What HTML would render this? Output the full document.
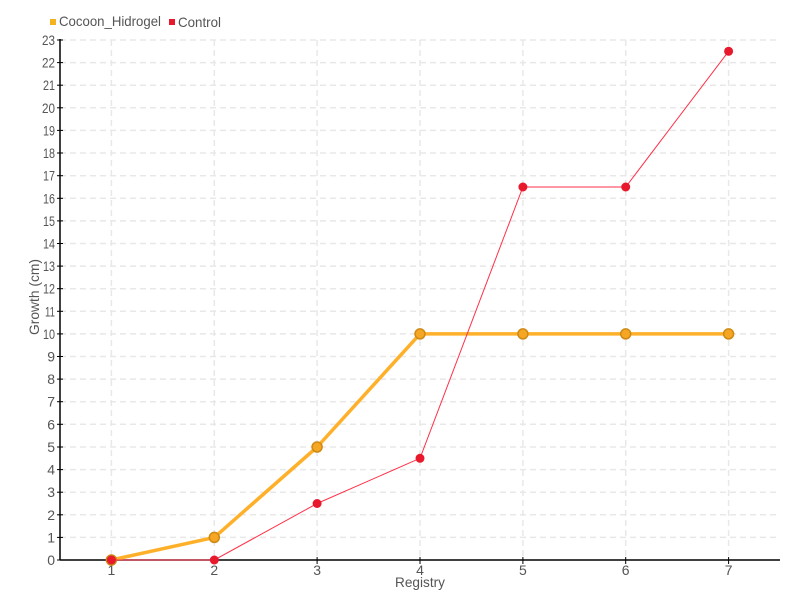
<!DOCTYPE html>
<html><head><meta charset="utf-8"><style>
html,body{margin:0;padding:0;background:#fff;}
svg{display:block;}
text{font-family:"Liberation Sans Narrow","Liberation Sans",sans-serif;fill:#555;}
</style></head><body>
<svg width="800" height="600" viewBox="0 0 800 600" xmlns="http://www.w3.org/2000/svg">
<g stroke="#e8e8e8" stroke-width="1.5" stroke-dasharray="6,4" fill="none">
<line x1="60" x2="780" y1="537.4" y2="537.4"/><line x1="60" x2="780" y1="514.8" y2="514.8"/><line x1="60" x2="780" y1="492.2" y2="492.2"/><line x1="60" x2="780" y1="469.6" y2="469.6"/><line x1="60" x2="780" y1="447.0" y2="447.0"/><line x1="60" x2="780" y1="424.3" y2="424.3"/><line x1="60" x2="780" y1="401.7" y2="401.7"/><line x1="60" x2="780" y1="379.1" y2="379.1"/><line x1="60" x2="780" y1="356.5" y2="356.5"/><line x1="60" x2="780" y1="333.9" y2="333.9"/><line x1="60" x2="780" y1="311.3" y2="311.3"/><line x1="60" x2="780" y1="288.7" y2="288.7"/><line x1="60" x2="780" y1="266.1" y2="266.1"/><line x1="60" x2="780" y1="243.5" y2="243.5"/><line x1="60" x2="780" y1="220.9" y2="220.9"/><line x1="60" x2="780" y1="198.3" y2="198.3"/><line x1="60" x2="780" y1="175.7" y2="175.7"/><line x1="60" x2="780" y1="153.0" y2="153.0"/><line x1="60" x2="780" y1="130.4" y2="130.4"/><line x1="60" x2="780" y1="107.8" y2="107.8"/><line x1="60" x2="780" y1="85.2" y2="85.2"/><line x1="60" x2="780" y1="62.6" y2="62.6"/><line x1="60" x2="780" y1="40" y2="40"/>
<line x1="111.4" x2="111.4" y1="40" y2="560"/><line x1="214.3" x2="214.3" y1="40" y2="560"/><line x1="317.1" x2="317.1" y1="40" y2="560"/><line x1="420" x2="420" y1="40" y2="560"/><line x1="522.9" x2="522.9" y1="40" y2="560"/><line x1="625.7" x2="625.7" y1="40" y2="560"/><line x1="728.6" x2="728.6" y1="40" y2="560"/>
</g>
<g stroke="#000" stroke-width="1.5" fill="none">
<line x1="60" y1="39" x2="60" y2="560"/>
<line x1="60" y1="560" x2="780" y2="560"/>
</g>
<g stroke="#000" stroke-width="1">
<line x1="57" x2="63" y1="560" y2="560"/><line x1="57" x2="63" y1="537.4" y2="537.4"/><line x1="57" x2="63" y1="514.8" y2="514.8"/><line x1="57" x2="63" y1="492.2" y2="492.2"/><line x1="57" x2="63" y1="469.6" y2="469.6"/><line x1="57" x2="63" y1="447.0" y2="447.0"/><line x1="57" x2="63" y1="424.3" y2="424.3"/><line x1="57" x2="63" y1="401.7" y2="401.7"/><line x1="57" x2="63" y1="379.1" y2="379.1"/><line x1="57" x2="63" y1="356.5" y2="356.5"/><line x1="57" x2="63" y1="333.9" y2="333.9"/><line x1="57" x2="63" y1="311.3" y2="311.3"/><line x1="57" x2="63" y1="288.7" y2="288.7"/><line x1="57" x2="63" y1="266.1" y2="266.1"/><line x1="57" x2="63" y1="243.5" y2="243.5"/><line x1="57" x2="63" y1="220.9" y2="220.9"/><line x1="57" x2="63" y1="198.3" y2="198.3"/><line x1="57" x2="63" y1="175.7" y2="175.7"/><line x1="57" x2="63" y1="153.0" y2="153.0"/><line x1="57" x2="63" y1="130.4" y2="130.4"/><line x1="57" x2="63" y1="107.8" y2="107.8"/><line x1="57" x2="63" y1="85.2" y2="85.2"/><line x1="57" x2="63" y1="62.6" y2="62.6"/><line x1="57" x2="63" y1="40" y2="40"/>
<line x1="111.4" x2="111.4" y1="557" y2="564"/><line x1="214.3" x2="214.3" y1="557" y2="564"/><line x1="317.1" x2="317.1" y1="557" y2="564"/><line x1="420" x2="420" y1="557" y2="564"/><line x1="522.9" x2="522.9" y1="557" y2="564"/><line x1="625.7" x2="625.7" y1="557" y2="564"/><line x1="728.6" x2="728.6" y1="557" y2="564"/>
</g>
<g font-size="14" text-anchor="end">
<text x="55" y="565">0</text><text x="55" y="542.4">1</text><text x="55" y="519.8">2</text><text x="55" y="497.2">3</text><text x="55" y="474.6">4</text><text x="55" y="452">5</text><text x="55" y="429.3">6</text><text x="55" y="406.7">7</text><text x="55" y="384.1">8</text><text x="55" y="361.5">9</text>
</g>
<g font-size="14" text-anchor="end" lengthAdjust="spacingAndGlyphs">
<text x="55" y="338.9" textLength="12" lengthAdjust="spacingAndGlyphs">10</text><text x="55" y="316.3" textLength="10" lengthAdjust="spacingAndGlyphs">11</text><text x="55" y="293.7" textLength="12" lengthAdjust="spacingAndGlyphs">12</text><text x="55" y="271.1" textLength="12" lengthAdjust="spacingAndGlyphs">13</text><text x="55" y="248.5" textLength="12" lengthAdjust="spacingAndGlyphs">14</text><text x="55" y="225.9" textLength="12" lengthAdjust="spacingAndGlyphs">15</text><text x="55" y="203.3" textLength="12" lengthAdjust="spacingAndGlyphs">16</text><text x="55" y="180.7" textLength="12" lengthAdjust="spacingAndGlyphs">17</text><text x="55" y="158" textLength="12" lengthAdjust="spacingAndGlyphs">18</text><text x="55" y="135.4" textLength="12" lengthAdjust="spacingAndGlyphs">19</text><text x="55" y="112.8" textLength="13" lengthAdjust="spacingAndGlyphs">20</text><text x="55" y="90.2" textLength="12" lengthAdjust="spacingAndGlyphs">21</text><text x="55" y="67.6" textLength="13" lengthAdjust="spacingAndGlyphs">22</text><text x="55" y="45" textLength="13" lengthAdjust="spacingAndGlyphs">23</text>
</g>
<g font-size="14" text-anchor="middle">
<text x="111.4" y="575">1</text><text x="214.3" y="575">2</text><text x="317.1" y="575">3</text><text x="420" y="575">4</text><text x="522.9" y="575">5</text><text x="625.7" y="575">6</text><text x="728.6" y="575">7</text>
<text x="420" y="587" textLength="50" lengthAdjust="spacingAndGlyphs">Registry</text>
<text transform="translate(39,297) rotate(-90)" textLength="76" lengthAdjust="spacingAndGlyphs">Growth (cm)</text>
</g>
<rect x="50" y="19" width="6" height="6" fill="#f5b21f"/>
<text x="59" y="26" font-size="14" textLength="102" lengthAdjust="spacingAndGlyphs">Cocoon_Hidrogel</text>
<rect x="169" y="19" width="6" height="6" fill="#e8192c"/>
<text x="178" y="27" font-size="14" textLength="43" lengthAdjust="spacingAndGlyphs">Control</text>
<polyline points="111.4,560 214.3,537.4 317.1,447 420,333.9 522.9,333.9 625.7,333.9 728.6,333.9" fill="none" stroke="#ffb02a" stroke-width="3.5" stroke-linejoin="round"/>
<g fill="#f5a623" stroke="#cf8a15" stroke-width="1.5">
<circle cx="214.3" cy="537.4" r="5"/><circle cx="317.1" cy="447" r="5"/><circle cx="420" cy="333.9" r="5"/><circle cx="522.9" cy="333.9" r="5"/><circle cx="625.7" cy="333.9" r="5"/><circle cx="728.6" cy="333.9" r="5"/><circle cx="111.4" cy="560" r="5"/>
</g>
<polyline points="111.4,560 214.3,560 317.1,503.5 420,458.3 522.9,187 625.7,187 728.6,51.3" fill="none" stroke="#ff3048" stroke-width="1"/>
<g fill="#e8192c">
<circle cx="111.4" cy="560" r="4.5"/><circle cx="214.3" cy="560" r="4.5"/><circle cx="317.1" cy="503.5" r="4.5"/><circle cx="420" cy="458.3" r="4.5"/><circle cx="522.9" cy="187" r="4.5"/><circle cx="625.7" cy="187" r="4.5"/><circle cx="728.6" cy="51.3" r="4.5"/>
</g>
</svg>
</body></html>
